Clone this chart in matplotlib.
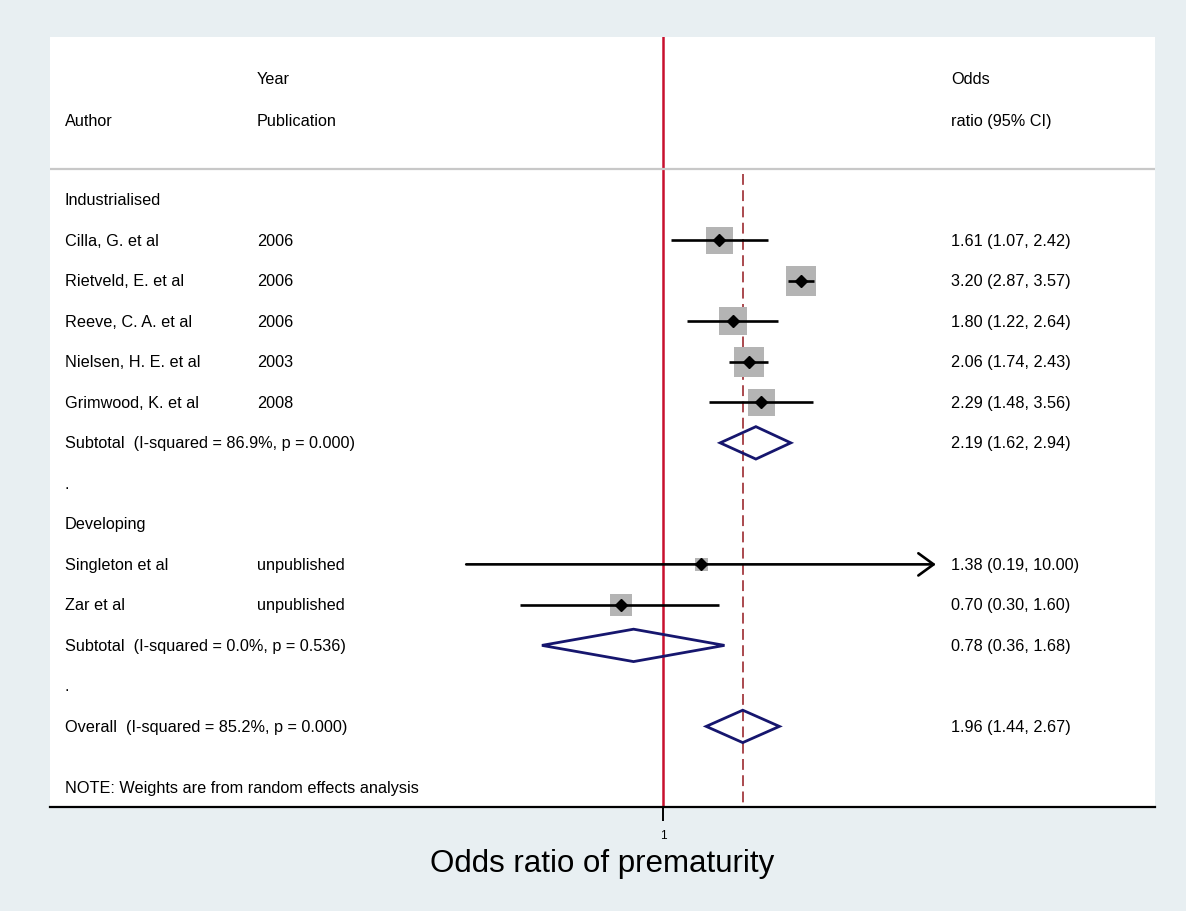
## Forest plot: odds ratio of prematurity
import numpy as np
import matplotlib.pyplot as plt
from matplotlib.patches import Polygon
import matplotlib.transforms as mtrans

plt.rcParams['font.family'] = ['Liberation Sans', 'DejaVu Sans']


## Data
groups = ["Industrialised", "Developing"]
authors = ["Cilla, G. et al", "Rietveld, E. et al", "Reeve, C. A. et al",
           "Nielsen, H. E. et al", "Grimwood, K. et al",
           "Singleton et al", "Zar et al"]
years = ["2006", "2006", "2006", "2003", "2008", "unpublished", "unpublished"]
study_group = [0, 0, 0, 0, 0, 1, 1]
or_est = [1.61, 3.20, 1.80, 2.06, 2.29, 1.38, 0.70]
ci_lo = [1.07, 2.87, 1.22, 1.74, 1.48, 0.19, 0.30]
ci_hi = [2.42, 3.57, 2.64, 2.43, 3.56, 10.00, 1.60]
weights = [15.5, 19.2, 16.8, 19.2, 15.5, 3.7, 10.1]

sub_est = [2.19, 0.78]
sub_lo = [1.62, 0.36]
sub_hi = [2.94, 1.68]
sub_i2 = ["86.9%", "0.0%"]
sub_p = ["0.000", "0.536"]

overall_est = 1.96
overall_lo = 1.44
overall_hi = 2.67
overall_i2 = "85.2%"
overall_p = "0.000"

x_max = 10.0


## Figure / axes setup (axes spans the white panel)
bg = '#E8EFF2'
fig = plt.figure(figsize=(11.86, 9.12), dpi=100, facecolor=bg)
ax = fig.add_axes([50/1186, 104/912, 1105/1186, 770/912])
ax.set_facecolor('white')

px_per_ln = 118.5
ax.set_xlim((50-663)/px_per_ln, (1155-663)/px_per_ln)
ax.set_ylim(14.99, -4.02)

fs = 11.7
txt = mtrans.blended_transform_factory(ax.transAxes, ax.transData)
x_author = (65-50)/1105
x_year = (257-50)/1105
x_ci = (951-50)/1105

navy = '#16166E'
box_c = '#B4B4B4'


## Header
ax.text(x_year, -2.99, "Year", transform=txt, fontsize=fs, va='center')
ax.text(x_author, -1.95, "Author", transform=txt, fontsize=fs, va='center')
ax.text(x_year, -1.95, "Publication", transform=txt, fontsize=fs, va='center')
ax.text(x_ci, -2.99, "Odds", transform=txt, fontsize=fs, va='center')
ax.text(x_ci, -1.95, "ratio (95% CI)", transform=txt, fontsize=fs, va='center')
ax.axhline(-0.77, color='#C8C8C8', lw=1.6)


def diamond(est, lo, hi, y):
    pts = [(np.log(lo), y), (np.log(est), y-0.4), (np.log(hi), y), (np.log(est), y+0.4)]
    ax.add_patch(Polygon(pts, closed=True, fill=False, edgecolor=navy, lw=2.0, zorder=4))


## Rows
row = 0
for g, gname in enumerate(groups):
    ax.text(x_author, row, gname, transform=txt, fontsize=fs, va='center')
    row += 1
    for i in range(len(authors)):
        if study_group[i] != g:
            continue
        side = 6.85*np.sqrt(weights[i])/1.389
        ax.scatter(np.log(or_est[i]), row, s=side**2, marker='s', color=box_c,
                   edgecolors='none', zorder=2)
        if ci_hi[i] >= x_max:
            ax.annotate('', xy=(np.log(ci_hi[i]), row), xytext=(np.log(ci_lo[i]), row),
                        arrowprops=dict(arrowstyle='->,head_length=11,head_width=8',
                                        mutation_scale=1, lw=1.9, color='black',
                                        shrinkA=0, shrinkB=0), zorder=3)
        else:
            ax.plot([np.log(ci_lo[i]), np.log(ci_hi[i])], [row, row], color='black',
                    lw=1.9, solid_capstyle='butt', zorder=3)
        ax.plot(np.log(or_est[i]), row, marker='D', color='black', markersize=6, zorder=5)
        ax.text(x_author, row, authors[i], transform=txt, fontsize=fs, va='center')
        ax.text(x_year, row, years[i], transform=txt, fontsize=fs, va='center')
        ax.text(x_ci, row, "%.2f (%.2f, %.2f)" % (or_est[i], ci_lo[i], ci_hi[i]),
                transform=txt, fontsize=fs, va='center')
        row += 1
    diamond(sub_est[g], sub_lo[g], sub_hi[g], row)
    ax.text(x_author, row, "Subtotal  (I-squared = %s, p = %s)" % (sub_i2[g], sub_p[g]),
            transform=txt, fontsize=fs, va='center')
    ax.text(x_ci, row, "%.2f (%.2f, %.2f)" % (sub_est[g], sub_lo[g], sub_hi[g]),
            transform=txt, fontsize=fs, va='center')
    row += 1
    ax.text(x_author, row, ".", transform=txt, fontsize=fs, va='center')
    row += 1

diamond(overall_est, overall_lo, overall_hi, row)
ax.text(x_author, row, "Overall  (I-squared = %s, p = %s)" % (overall_i2, overall_p),
        transform=txt, fontsize=fs, va='center')
ax.text(x_ci, row, "%.2f (%.2f, %.2f)" % (overall_est, overall_lo, overall_hi),
        transform=txt, fontsize=fs, va='center')
ax.text(x_author, row+1.5, "NOTE: Weights are from random effects analysis",
        transform=txt, fontsize=fs, va='center')


## Reference lines
ax.axvline(0, color='#C8102E', lw=1.8, zorder=1)
ax.plot([np.log(overall_est)]*2, [-0.65, 14.99], color='#A43A40', lw=1.3,
        linestyle=(0, (6, 3)), zorder=1)


## Axis
for s in ['top', 'left', 'right']:
    ax.spines[s].set_visible(False)
ax.spines['bottom'].set_linewidth(1.6)
ax.set_yticks([])
ax.set_xticks([0])
ax.set_xticklabels(['1'])
ax.tick_params(axis='x', length=10, width=1.4, labelsize=8.5, pad=6)
ax.set_xlabel("Odds ratio of prematurity", fontsize=22.5, labelpad=5)

fig.savefig('out.png', dpi=100, facecolor=bg)
